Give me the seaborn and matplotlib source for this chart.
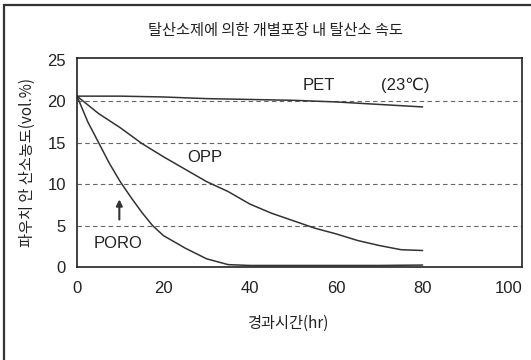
import numpy as np
import pandas as pd
import matplotlib
matplotlib.use("Agg")
import matplotlib.pyplot as plt
import seaborn as sns
from matplotlib.patches import Rectangle

# Data
pet_hr = [0, 10, 20, 30, 40, 50, 60, 70, 80]
pet_o2 = [20.6, 20.6, 20.5, 20.3, 20.2, 20.1, 19.9, 19.6, 19.3]

opp_hr = [0, 5, 10, 15, 20, 25, 30, 35, 40, 45, 50, 55, 60, 65, 70, 75, 80]
opp_o2 = [20.6, 18.5, 16.8, 14.9, 13.3, 11.8, 10.3, 9.1, 7.6, 6.5, 5.6, 4.7, 4.0, 3.2, 2.6, 2.1, 2.0]

poro_hr = [0, 2.5, 5, 7.5, 10, 12.5, 15, 17.5, 20, 25, 30, 35, 40, 50, 60, 70, 80]
poro_o2 = [20.6, 17.5, 15.0, 12.5, 10.3, 8.4, 6.6, 5.0, 3.8, 2.3, 1.0, 0.3, 0.2, 0.2, 0.2, 0.2, 0.25]

grid_levels = [5, 10, 15, 20]
x_ticks = [0, 20, 40, 60, 80, 100]
y_ticks = [0, 5, 10, 15, 20, 25]

title = "탈산소제에 의한 개별포장 내 탈산소 속도"
xlabel = "경과시간(hr)"
ylabel = "파우치 안 산소농도(vol.%)"

sns.set_theme(style="white")
num_font = ["Liberation Sans", "DejaVu Sans"]
kr_font = ["Noto Sans CJK KR", "DejaVu Sans"]
plt.rcParams["font.family"] = num_font

fig = plt.figure(figsize=(5.31, 3.60), dpi=100)
ax = fig.add_axes([0.145, 0.258, 0.838, 0.581])

line_col = "#333333"
for hr, o2 in [(pet_hr, pet_o2), (opp_hr, opp_o2), (poro_hr, poro_o2)]:
    df = pd.DataFrame({"hr": hr, "o2": o2})
    sns.lineplot(data=df, x="hr", y="o2", ax=ax, color=line_col, linewidth=1.1)

for lv in grid_levels:
    ax.axhline(lv, color="#666666", linewidth=0.8, linestyle=(0, (4, 3)), zorder=0)

ax.set_xlim(0, 103)
ax.set_ylim(0, 25.2)
ax.set_xticks(x_ticks)
ax.set_yticks(y_ticks)
ax.tick_params(axis="both", direction="in", length=3, width=0.8, colors="#222222",
               labelsize=12, pad=10)
ax.tick_params(axis="y", pad=8)
for s in ax.spines.values():
    s.set_color("#222222")
    s.set_linewidth(1.2)

ax.set_xlabel(xlabel, family=kr_font, fontsize=11, color="#222222")
ax.set_ylabel(ylabel, family=kr_font, fontsize=11, color="#222222")
ax.xaxis.set_label_coords(0.474, -0.268)
ax.yaxis.set_label_coords(-0.112, 0.5)
ax.xaxis.label.set_va("center")
ax.yaxis.label.set_va("center")

# curve labels
ax.text(56, 21.9, "PET", fontsize=12, ha="center", va="center", color="#222222")
ax.text(76, 21.9, "(23℃)", fontsize=12, ha="center", va="center", color="#222222",
        family=num_font)
ax.text(29.5, 13.2, "OPP", fontsize=12, ha="center", va="center", color="#222222")
ax.text(9.5, 2.8, "PORO", fontsize=12, ha="center", va="center", color="#222222")
ax.annotate("", xy=(9.8, 8.5), xytext=(9.8, 5.4),
            arrowprops=dict(arrowstyle="-|>", color="#333333", lw=1.5,
                            mutation_scale=9))

fig.text(0.518, 0.915, title, family=kr_font, fontsize=11, ha="center", va="center",
         color="#222222")

# scanned frame (only left and top edges visible)
fig.patches.append(Rectangle((0.008, -0.1), 1.2, 1.086, transform=fig.transFigure,
                             fill=False, edgecolor="#333333", linewidth=1.6))

fig.savefig("out.png", dpi=100)
